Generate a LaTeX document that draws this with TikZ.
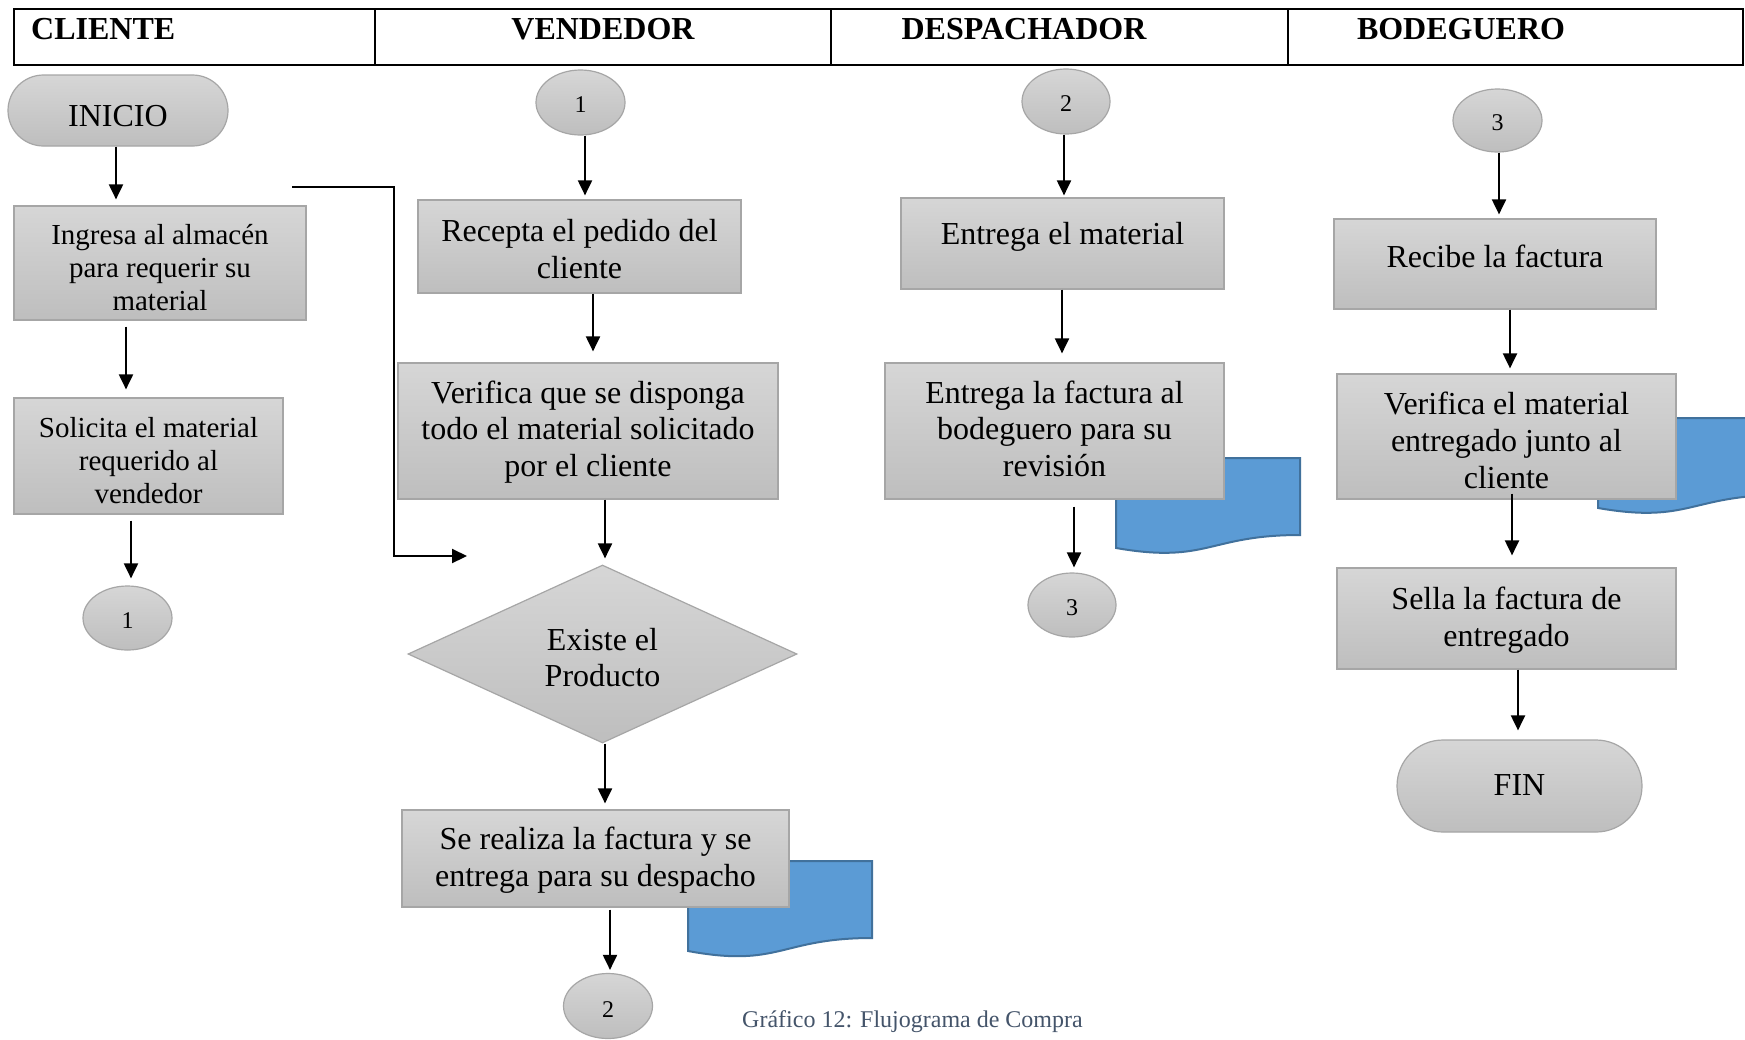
\documentclass[tikz,border=0pt]{standalone}
\usepackage{fontspec}
\setmainfont{Liberation Serif}
\usetikzlibrary{shapes.geometric,shapes.misc,arrows.meta}

\definecolor{boxtop}{RGB}{214,214,214}
\definecolor{boxbot}{RGB}{190,190,190}
\definecolor{boxline}{RGB}{166,166,166}
\definecolor{docfill}{RGB}{91,155,213}
\definecolor{docline}{RGB}{65,113,156}
\definecolor{captext}{RGB}{68,84,106}

\tikzset{
  base/.style={draw=boxline, line width=1.2pt, top color=boxtop, bottom color=boxbot,
               inner sep=0pt, align=center, text=black},
  proc/.style={base, rectangle, font=\fontsize{32}{36.8}\selectfont},
  procsm/.style={base, rectangle, font=\fontsize{29}{33.4}\selectfont},
  term/.style={base, rounded rectangle, font=\fontsize{32}{36.8}\selectfont},
  conn/.style={base, ellipse, font=\fontsize{24}{28}\selectfont},
  decide/.style={base, diamond, aspect=2.2, font=\fontsize{32}{36.8}\selectfont},
  % vertical placement of the text inside a symbol
  tpos/.style 2 args={text height=#1pt, text depth=#2pt},
  flow/.style={line width=2pt, -{Triangle[length=15pt,width=14pt]}},
  link/.style={line width=2.2pt, line join=miter, -{Triangle[length=15pt,width=14pt]}},
  docshp/.style={fill=docfill, draw=docline, line width=2pt},
  hdrline/.style={line width=2pt},
  hdrtext/.style={font=\bfseries\fontsize{32}{36}\selectfont, inner sep=0pt},
}

\begin{document}
\begin{tikzpicture}[x=1pt, y=-1pt]
  \useasboundingbox (0,0) rectangle (1745,1039);
  \clip (0,0) rectangle (1745,1039);
  \fill[white] (0,0) rectangle (1745,1039);

  % lane header
  \draw[hdrline] (14,9) rectangle (1743,65);
  \draw[hdrline] (375,9) -- (375,65) (831,9) -- (831,65) (1288,9) -- (1288,65);
  \node[hdrtext, anchor=base west] (hcli) at (31,39) {CLIENTE};
  \node[hdrtext, anchor=base] (hven) at (603,39) {VENDEDOR};
  \node[hdrtext, anchor=base] (hdes) at (1024,39) {DESPACHADOR};
  \node[hdrtext, anchor=base] (hbod) at (1461,39) {BODEGUERO};

  % document symbols (behind the process boxes)
  \filldraw[docshp] (688,861) -- (872,861) -- (872,938)
     .. controls (780,938) and (780,968) .. (688,951) -- cycle;
  \filldraw[docshp] (1116,458) -- (1300,458) -- (1300,535)
     .. controls (1208,535) and (1208,564) .. (1116,548) -- cycle;
  \filldraw[docshp] (1598,418) -- (1782,418) -- (1782,495)
     .. controls (1690,495) and (1690,524) .. (1598,508) -- cycle;

  % CLIENTE
  \node[term, tpos={31}{0}, minimum width=220pt, minimum height=71pt] (inicio) at (118,110.5) {INICIO};
  \node[procsm, tpos={102.6}{7}, minimum width=292pt, minimum height=114pt] (ingresa) at (160,263)
    {Ingresa al almacén\\para requerir su\\material};
  \node[procsm, tpos={102.6}{7}, minimum width=269pt, minimum height=116pt] (solicita) at (148.5,456)
    {Solicita el material\\requerido al\\vendedor};
  \node[conn, tpos={21}{1}, minimum width=89pt, minimum height=64pt] (c1) at (127.5,618) {1};

  % VENDEDOR
  \node[conn, tpos={21}{1}, minimum width=89pt, minimum height=65pt] (v1) at (580.5,102.5) {1};
  \node[proc, tpos={70.6}{7}, minimum width=323pt, minimum height=93pt] (recepta) at (579.5,246.5)
    {Recepta el pedido del\\cliente};
  \node[proc, tpos={98.2}{7}, minimum width=380pt, minimum height=136pt] (verifica) at (588,431)
    {Verifica que se disponga\\todo el material solicitado\\por el cliente};
  \node[decide, tpos={72.6}{7}, minimum width=389pt, minimum height=178pt] (exist) at (602.5,654)
    {Existe el\\Producto};
  \node[proc, tpos={62.6}{7}, minimum width=387pt, minimum height=97pt] (factura) at (595.5,858.5)
    {Se realiza la factura y se\\entrega para su despacho};
  \node[conn, tpos={23}{0}, minimum width=89pt, minimum height=65pt] (v2) at (608,1006) {2};

  % DESPACHADOR
  \node[conn, tpos={21}{1}, minimum width=88pt, minimum height=65pt] (d2) at (1066,101.5) {2};
  \node[proc, tpos={20.5}{19.5}, minimum width=323pt, minimum height=91pt]
    (entrega) at (1062.5,243.5) {Entrega el material};
  \node[proc, tpos={98.2}{7}, minimum width=339pt, minimum height=136pt] (entfact) at (1054.5,431)
    {Entrega la factura al\\bodeguero para su\\revisión};
  \node[conn, tpos={21}{1}, minimum width=88pt, minimum height=64pt] (d3) at (1072,605) {3};

  % BODEGUERO
  \node[conn, tpos={21}{1}, minimum width=89pt, minimum height=63pt] (b3) at (1497.5,120.5) {3};
  \node[proc, tpos={20}{14}, minimum width=322pt, minimum height=90pt]
    (recibe) at (1495,264) {Recibe la factura};
  \node[proc, tpos={110.2}{7}, minimum width=339pt, minimum height=125pt] (verbod) at (1506.5,436.5)
    {Verifica el material\\entregado junto al\\cliente};
  \node[proc, tpos={62.6}{7}, minimum width=339pt, minimum height=101pt] (sella) at (1506.5,618.5)
    {Sella la factura de\\entregado};
  \node[term, tpos={22}{3}, minimum width=245pt, minimum height=92pt] (fin) at (1519.5,786) {FIN};

  % flow arrows
  \draw[flow, shorten >=6pt] (inicio.south -| 116,0) -- (ingresa.north -| 116,0);
  \draw[flow, shorten <=6pt, shorten >=8pt] (ingresa.south -| 126,0) -- (solicita.north -| 126,0);
  \draw[flow, shorten <=6pt, shorten >=7pt] (solicita.south -| 131,0) -- (c1.north -| 131,0);

  \draw[flow, shorten >=4pt] (v1.south -| 585,0) -- (recepta.north -| 585,0);
  \draw[flow, shorten >=11pt] (recepta.south -| 593,0) -- (verifica.north -| 593,0);
  \draw[flow, shorten >=6pt] (verifica.south -| 605,0) -- (exist.north -| 605,0);
  \draw[flow, shorten >=6pt] (exist.south -| 605,0) -- (factura.north -| 605,0);
  \draw[flow, shorten <=2pt, shorten >=3pt] (factura.south -| 610,0) -- (v2.north -| 610,0);

  \draw[flow, shorten >=2pt] (d2.south -| 1064,0) -- (entrega.north -| 1064,0);
  \draw[flow, shorten >=9pt] (entrega.south -| 1062,0) -- (entfact.north -| 1062,0);
  \draw[flow, shorten <=7pt, shorten >=5pt] (entfact.south -| 1074,0) -- (d3.north -| 1074,0);

  \draw[flow, shorten >=4pt] (b3.south -| 1499,0) -- (recibe.north -| 1499,0);
  \draw[flow, shorten >=5pt] (recibe.south -| 1510,0) -- (verbod.north -| 1510,0);
  \draw[flow, shorten <=-6pt, shorten >=12pt] (verbod.south -| 1512,0) -- (sella.north -| 1512,0);
  \draw[flow, shorten >=9pt] (sella.south -| 1518,0) -- (fin.north -| 1518,0);

  % connector from the client lane into the seller lane
  \coordinate (lk0) at (292,187);
  \coordinate (lk1) at (394,187);
  \coordinate (lk2) at (467,556);
  \draw[link] (lk0) -- (lk1) |- (lk2);

  % caption
  \node[font=\fontsize{24}{28}\selectfont, text=captext, anchor=base west, inner sep=0pt]
    (caption) at (742,1027) {Gráfico 12: Flujograma de Compra};
\end{tikzpicture}
\end{document}
